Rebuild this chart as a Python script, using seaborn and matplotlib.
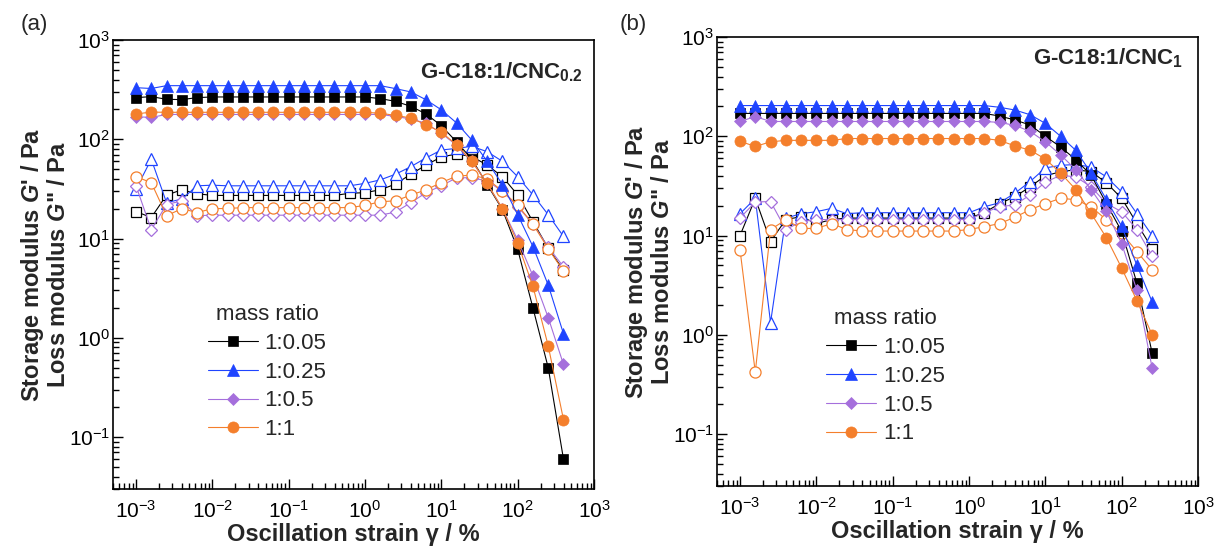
import numpy as np
import pandas as pd
import seaborn as sns
import matplotlib.pyplot as plt

sns.set_theme(style="ticks")
plt.rcParams['font.family'] = ['Liberation Sans', 'DejaVu Sans']
plt.rcParams['mathtext.fontset'] = 'custom'
plt.rcParams['mathtext.rm'] = 'Liberation Sans'
plt.rcParams['mathtext.it'] = 'Liberation Sans:italic:bold'
plt.rcParams['mathtext.bf'] = 'Liberation Sans:bold'

# strain steps: 5 points per decade starting at 1e-3 %
strain_a = 10 ** (np.arange(29) * 0.2 - 3)
strain_b = 10 ** (np.arange(28) * 0.2 - 3)

ratios = ["1:0.05", "1:0.25", "1:0.5", "1:1"]

# (a) G-C18:1/CNC0.2
gp_a = {
    "1:0.05": [263, 269, 253, 251, 263, 267, 267, 267, 267, 267, 267, 267, 267, 267, 267, 267,
               257, 241, 215, 180, 137, 94, 63, 35, 19.6, 7.8, 2.0, 0.50, 0.06],
    "1:0.25": [331, 325, 347, 347, 347, 347, 347, 347, 347, 347, 347, 347, 347, 347, 347, 347,
               347, 324, 300, 250, 198, 146, 98, 60, 35, 17.4, 8.3, 3.4, 1.1],
    "1:0.5": [169, 166, 178, 178, 178, 178, 178, 178, 178, 178, 178, 178, 178, 178, 178, 178,
              178, 170, 160, 145, 115, 87, 60, 36, 20, 9.7, 4.2, 1.6, 0.54],
    "1:1": [180, 188, 187, 187, 187, 187, 187, 187, 187, 187, 187, 187, 187, 187, 187, 187,
            183, 174, 164, 140, 118, 88, 60, 36, 20, 9.0, 3.3, 0.83, 0.15],
}
gpp_a = {
    "1:0.05": [18.7, 16.3, 27.4, 31, 28.3, 27.2, 27.2, 27.2, 27.2, 27.2, 27.2, 27.2, 27.2, 27.2,
               28.6, 29, 31, 35.4, 44.5, 55, 66.5, 71, 67, 55, 42, 27.5, 14.8, 8.0, 4.8],
    "1:0.25": [31.5, 63, 23, 25, 34, 34.5, 34, 34, 34, 34, 34, 34, 34, 34, 34, 36, 39, 44.5, 53,
               65, 78, 81, 85, 75, 60, 42, 27.5, 17.4, 10.5],
    "1:0.5": [34, 12.3, 22, 24, 17, 17.2, 17.2, 17.2, 17.2, 17.2, 17.2, 17.2, 17.2, 17.2, 17.2,
              17.2, 17.2, 18.5, 23, 29, 34, 41, 41, 38, 30, 21, 14, 8.2, 5.2],
    "1:1": [42, 36.6, 17, 20, 18.3, 20, 20.1, 20.5, 20.5, 20.5, 20.5, 20.5, 20.5, 20.5, 20.5, 21.6,
            23.5, 24, 27.4, 31, 36.7, 42.5, 43.6, 40, 30, 21.7, 14, 7.9, 4.7],
}

# (b) G-C18:1/CNC1
gp_b = {
    "1:0.05": [170, 170, 170, 170, 170, 170, 170, 170, 170, 170, 170, 170, 170, 170, 170, 170,
               170, 160, 146, 130, 100, 78, 58, 40.5, 21, 11, 3.3, 0.65],
    "1:0.25": [204, 204, 204, 204, 204, 204, 204, 204, 204, 204, 204, 204, 204, 204, 204, 204,
               204, 196, 184, 165, 135, 100, 72, 42.5, 23, 12.4, 5.0, 2.14],
    "1:0.5": [141, 158, 141, 141, 141, 141, 141, 141, 141, 141, 141, 141, 141, 141, 141, 141,
              141, 138, 129, 112, 88, 65, 46, 29, 17.5, 8.3, 2.8, 0.46],
    "1:1": [89, 79, 88, 91, 91, 91, 91, 95, 95, 95, 95, 95, 95, 95, 95, 95,
            95, 91, 80, 72.5, 59, 42.6, 29, 16.7, 9.5, 4.7, 2.2, 1.0],
}
gpp_b = {
    "1:0.05": [10, 23.7, 8.7, 14.5, 15.5, 13.2, 14.5, 15, 15, 15, 15, 15, 15, 15, 15, 15,
               17, 21, 24.6, 31, 40, 44, 46, 44, 34, 23.7, 13.2, 7.4],
    "1:0.25": [16.6, 23.7, 1.33, 15, 16.6, 17.4, 18.8, 16.6, 17, 17, 17, 17, 17, 17, 17, 17,
               19.5, 21.4, 26.7, 35, 48, 51, 52, 49, 39, 27.5, 16.6, 10],
    "1:0.5": [15, 21.8, 22, 11.5, 13.8, 14.5, 14.5, 14.5, 14.5, 14.5, 14.5, 14.5, 14.5, 14.5, 14.5,
              14.5, 17, 19.5, 20.4, 25.6, 34.5, 40.5, 39, 31, 21, 17.4, 11.5, 6.2],
    "1:1": [7.2, 0.42, 11.5, 14.4, 11.8, 11.8, 13.2, 11.5, 11.1, 11.1, 11.1, 11.1, 11.1, 11.1, 11.1,
            11.5, 12.3, 13.2, 15.3, 18.2, 21, 23.7, 23, 19.5, 14.4, 10.5, 6.9, 4.5],
}

colors = {"1:0.05": "#000000", "1:0.25": "#1f44ff", "1:0.5": "#a56fdc", "1:1": "#f47f2c"}
markers = {"1:0.05": "s", "1:0.25": "^", "1:0.5": "D", "1:1": "o"}
msizes = {"1:0.05": 7.5, "1:0.25": 8.5, "1:0.5": 6.5, "1:1": 8}

fig = plt.figure(figsize=(12.18, 5.56), dpi=100)
ax_a = fig.add_axes([0.0928, 0.1205, 0.3949, 0.8075])
ax_b = fig.add_axes([0.5887, 0.1259, 0.3949, 0.8075])


def draw(ax, strain, gp, gpp, title, title_pos, leg_anchor):
    handles = []
    # loss modulus: open symbols underneath
    for r in ratios:
        sns.lineplot(x=strain, y=gpp[r], ax=ax, color=colors[r], marker=markers[r],
                     markersize=msizes[r], markerfacecolor="white", markeredgecolor=colors[r],
                     markeredgewidth=0.9, linewidth=0.8, estimator=None, sort=False)
    # storage modulus: filled symbols
    for r in ratios:
        sns.lineplot(x=strain, y=gp[r], ax=ax, color=colors[r], marker=markers[r],
                     markersize=msizes[r], markerfacecolor=colors[r], markeredgecolor=colors[r],
                     markeredgewidth=0.5, linewidth=0.8, estimator=None, sort=False, label=r)
        handles.append(ax.lines[-1])
    ax.set_xscale("log")
    ax.set_yscale("log")
    ax.set_xlim(5e-4, 1e3)
    ax.set_ylim(0.03, 1e3)
    ax.set_xticks(10.0 ** np.arange(-3, 4))
    ax.set_yticks(10.0 ** np.arange(-1, 4))
    ax.xaxis.set_minor_locator(plt.LogLocator(base=10, subs=np.arange(2, 10), numticks=20))
    ax.yaxis.set_minor_locator(plt.LogLocator(base=10, subs=np.arange(2, 10), numticks=20))
    ax.tick_params(which="both", direction="in", top=False, right=False,
                   labelsize=15, width=1, colors="black")
    ax.tick_params(which="major", length=7)
    ax.tick_params(which="minor", length=4)
    ax.tick_params(axis="x", which="major", pad=8)
    ax.tick_params(axis="y", which="major", pad=2)
    for s in ax.spines.values():
        s.set_linewidth(1.2)
        s.set_color("black")
    ax.set_xlabel("Oscillation strain γ / %", fontsize=17, fontweight="bold", labelpad=1)
    ax.set_ylabel("Storage modulus $G$' / Pa\nLoss modulus $G$\" / Pa", fontsize=17,
                  fontweight="bold", labelpad=-1, linespacing=1.05)
    ax.text(title_pos[0], title_pos[1], title, transform=ax.transAxes, ha="right",
            va="center", fontsize=16, fontweight="bold")
    ax.legend(handles=handles, title="mass ratio", loc="upper left", bbox_to_anchor=leg_anchor,
              frameon=False, fontsize=16, title_fontsize=16, handlelength=2.25,
              handletextpad=0.3, labelspacing=0.35, borderpad=0, borderaxespad=0)


draw(ax_a, strain_a, gp_a, gpp_a, r"G-C18:1/CNC$_\mathbf{0.2}$", (0.977, 0.929), (0.197, 0.412))
draw(ax_b, strain_b, gp_b, gpp_b, r"G-C18:1/CNC$_\mathbf{1}$", (0.969, 0.953), (0.227, 0.396))

fig.text(0.017, 0.956, "(a)", fontsize=16, va="center")
fig.text(0.509, 0.956, "(b)", fontsize=16, va="center")

fig.savefig("out.png", dpi=100)
